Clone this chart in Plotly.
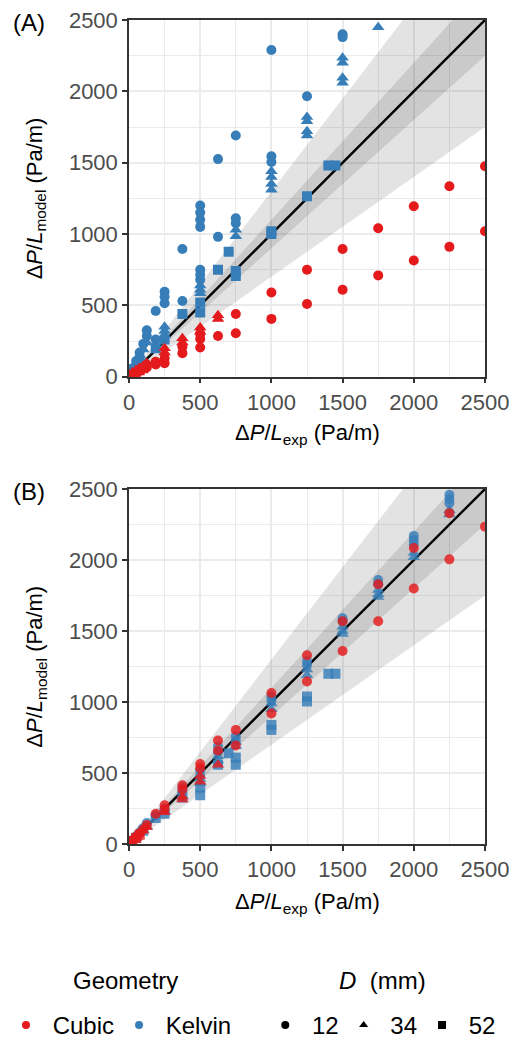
import plotly.graph_objects as go

# ---------------- data ----------------
axis_max = 2500
band_outer = 0.3
band_inner = 0.1
ticks = [0, 500, 1000, 1500, 2000, 2500]

# Panel A
a_cubic12_x = [25, 50, 62.5, 75, 100, 125, 125, 187.5, 187.5, 250, 250, 375, 375, 500, 500, 500, 625, 750, 750,
               1000, 1000, 1250, 1250, 1500, 1500, 1750, 1750, 2000, 2000, 2250, 2250, 2500, 2500]
a_cubic12_y = [15, 30, 35, 45, 60, 85, 65, 105, 85, 130, 95, 210, 165, 300, 265, 205, 285, 440, 305,
               590, 405, 750, 510, 895, 610, 1040, 710, 1195, 815, 1335, 910, 1475, 1020]
a_cubic34_x = [25, 50, 75, 100, 125, 250, 250, 375, 375, 500, 500, 625, 625]
a_cubic34_y = [20, 40, 55, 75, 95, 200, 170, 270, 240, 345, 315, 430, 405]
a_cubic52_x = [25, 50, 75, 100]
a_cubic52_y = [15, 30, 45, 60]
a_kelvin12_x = [25, 50, 75, 75, 100, 125, 125, 187.5, 187.5, 250, 250, 250, 375, 375, 500, 500, 500, 500, 500, 500,
                500, 625, 625, 750, 750, 750, 1000, 1000, 1000, 1250, 1500, 1500]
a_kelvin12_y = [60, 110, 170, 140, 230, 325, 285, 460, 260, 595, 560, 515, 895, 530, 1200, 1150, 1100, 1050, 750, 715,
                680, 1525, 980, 1690, 1110, 1075, 2290, 1545, 1505, 1965, 2400, 2380]
a_kelvin34_x = [50, 75, 100, 125, 250, 250, 250, 500, 500, 500, 750, 750, 1000, 1000, 1000, 1000,
                1250, 1250, 1250, 1250, 1500, 1500, 1500, 1500, 1750]
a_kelvin34_y = [90, 150, 190, 240, 350, 320, 290, 640, 610, 585, 1030, 985, 1440, 1400, 1350, 1310,
                1820, 1790, 1720, 1690, 2235, 2200, 2095, 2060, 2450]
a_kelvin52_x = [50, 100, 187.5, 250, 375, 500, 500, 625, 700, 750, 750, 1000, 1000, 1250, 1400, 1450]
a_kelvin52_y = [40, 90, 200, 260, 440, 520, 450, 750, 875, 740, 705, 1020, 1000, 1265, 1480, 1480]

# Panel B
b_cubic12_x = [25, 50, 75, 100, 125, 187.5, 250, 250, 375, 375, 500, 500, 625, 625, 750, 750, 1000, 1000,
               1250, 1250, 1500, 1500, 1750, 1750, 2000, 2000, 2250, 2250, 2500]
b_cubic12_y = [28, 52, 78, 105, 135, 215, 275, 245, 415, 385, 565, 535, 730, 660, 805, 695, 1065, 920,
               1330, 1145, 1570, 1360, 1830, 1570, 2085, 1800, 2330, 2005, 2235]
b_cubic34_x = [50, 100, 125, 250, 375, 375, 500, 500, 625]
b_cubic34_y = [45, 95, 120, 225, 335, 315, 480, 440, 560]
b_cubic52_x = [25, 50, 75]
b_cubic52_y = [22, 45, 68]
b_kelvin12_x = [25, 50, 75, 100, 125, 187.5, 250, 375, 375, 500, 500, 625, 625, 750, 750, 1000, 1000,
                1250, 1250, 1500, 1500, 1750, 1750, 2000, 2000, 2000, 2250, 2250, 2250]
b_kelvin12_y = [30, 58, 85, 115, 150, 205, 250, 400, 370, 520, 480, 690, 650, 760, 730, 1040, 1010,
                1290, 1260, 1590, 1570, 1860, 1830, 2170, 2140, 2110, 2460, 2430, 2400]
b_kelvin34_x = [50, 100, 125, 250, 375, 500, 500, 625, 625, 750, 750, 1000, 1000, 1250, 1250,
                1500, 1500, 1500, 1750, 1750, 1750, 2000, 2000, 2250, 2250]
b_kelvin34_y = [50, 100, 125, 230, 340, 460, 430, 620, 590, 720, 690, 990, 950, 1230, 1190,
                1530, 1500, 1480, 1790, 1760, 1740, 2050, 2020, 2350, 2320]
b_kelvin52_x = [50, 100, 187.5, 250, 375, 500, 500, 625, 700, 750, 750, 1000, 1000, 1250, 1250, 1400, 1450]
b_kelvin52_y = [45, 95, 185, 215, 330, 400, 345, 560, 640, 610, 560, 840, 805, 1040, 1005, 1200, 1200]

geometries = ["Cubic", "Kelvin"]
diameters = ["12", "34", "52"]

# ---------------- styles ----------------
RED = "#E41A1C"
BLUE = "#377EB8"
colors = {"Cubic": RED, "Kelvin": BLUE}
symbols = {"12": "circle", "34": "triangle-up", "52": "square"}
sizes = {"12": 10, "34": 11, "52": 10}
FONT = "Liberation Sans, Arial, Helvetica, sans-serif"
NB = "\u00a0"

panels = {
    "A": {
        ("Kelvin", "12"): (a_kelvin12_x, a_kelvin12_y),
        ("Kelvin", "34"): (a_kelvin34_x, a_kelvin34_y),
        ("Kelvin", "52"): (a_kelvin52_x, a_kelvin52_y),
        ("Cubic", "12"): (a_cubic12_x, a_cubic12_y),
        ("Cubic", "34"): (a_cubic34_x, a_cubic34_y),
        ("Cubic", "52"): (a_cubic52_x, a_cubic52_y),
    },
    "B": {
        ("Kelvin", "12"): (b_kelvin12_x, b_kelvin12_y),
        ("Kelvin", "34"): (b_kelvin34_x, b_kelvin34_y),
        ("Kelvin", "52"): (b_kelvin52_x, b_kelvin52_y),
        ("Cubic", "12"): (b_cubic12_x, b_cubic12_y),
        ("Cubic", "34"): (b_cubic34_x, b_cubic34_y),
        ("Cubic", "52"): (b_cubic52_x, b_cubic52_y),
    },
}
axes_ids = {"A": ("x", "y"), "B": ("x2", "y2")}
opac = {"A": 1.0, "B": 0.82}

fig = go.Figure()

for pname, data in panels.items():
    xa, ya = axes_ids[pname]
    for frac in (band_outer, band_inner):
        fig.add_trace(go.Scatter(
            x=[0, axis_max, axis_max, 0],
            y=[0, axis_max * (1 + frac), axis_max * (1 - frac), 0],
            fill="toself", fillcolor="rgba(0,0,0,0.11)", line=dict(width=0),
            mode="lines", hoverinfo="skip", showlegend=False, xaxis=xa, yaxis=ya))
    fig.add_trace(go.Scatter(x=[0, axis_max], y=[0, axis_max], mode="lines",
                             line=dict(color="black", width=2.4), showlegend=False,
                             xaxis=xa, yaxis=ya))
    for (geo, d), (xs, ys) in data.items():
        fig.add_trace(go.Scatter(
            x=xs, y=ys, mode="markers",
            marker=dict(color=colors[geo], symbol=symbols[d], size=sizes[d],
                        opacity=opac[pname], line=dict(width=0)),
            showlegend=False, xaxis=xa, yaxis=ya, cliponaxis=True))

for geo in geometries:
    fig.add_trace(go.Scatter(x=[None], y=[None], mode="markers", name=NB + geo,
                             marker=dict(color=colors[geo], symbol="circle", size=8),
                             legend="legend", showlegend=True))
for d in diameters:
    fig.add_trace(go.Scatter(x=[None], y=[None], mode="markers", name=NB + d,
                             marker=dict(color="black", symbol=symbols[d], size=8),
                             legend="legend2", showlegend=True))

W, H = 514, 1042
x_dom = [129 / W, 485 / W]
yA = [1 - 376.7 / H, 1 - 20 / H]
yB = [1 - 844.3 / H, 1 - 489 / H]

def xaxis_cfg(anchor):
    return dict(domain=x_dom, anchor=anchor, range=[0, axis_max], tickvals=ticks,
                automargin=False,
                ticks="outside", ticklen=5, tickwidth=1.5, tickcolor="#333333",
                showline=True, mirror=True, linecolor="#333333", linewidth=1.5,
                showgrid=True, gridcolor="#EBEBEB", gridwidth=1.6, zeroline=False,
                minor=dict(dtick=250, tick0=0, showgrid=True, gridcolor="#EBEBEB", gridwidth=0.9),
                tickfont=dict(size=22, color="#4D4D4D", family=FONT))

def yaxis_cfg(anchor, dom):
    c = xaxis_cfg(anchor)
    c["domain"] = dom
    return c

leg_y = -6 / H
fig.update_layout(
    width=W, height=H, margin=dict(l=0, r=0, t=0, b=0, autoexpand=False),
    plot_bgcolor="white", paper_bgcolor="white",
    font=dict(family=FONT, color="black"),
    xaxis=xaxis_cfg("y"), yaxis=yaxis_cfg("x", yA),
    xaxis2=xaxis_cfg("y2"), yaxis2=yaxis_cfg("x2", yB),
    legend=dict(orientation="h", x=6 / W, xanchor="left", y=leg_y, yanchor="bottom",
                font=dict(size=24, color="black", family=FONT), bgcolor="rgba(0,0,0,0)"),
    legend2=dict(orientation="h", x=0.52 - 2 / W, xanchor="left", y=leg_y, yanchor="bottom",
                 font=dict(size=24, color="black", family=FONT), bgcolor="rgba(0,0,0,0)"),
)

ytitle = "Δ<i>P</i>/<i>L</i><sub>model</sub> (Pa/m)"
xtitle = "Δ<i>P</i>/<i>L</i><sub>exp</sub> (Pa/m)"

def ann_at(text, xc, yc, size, angle=0):
    return dict(text=text, x=xc / W, y=1 - yc / H, xref="paper", yref="paper",
                xanchor="center", yanchor="middle", textangle=angle,
                showarrow=False, font=dict(size=size, color="black", family=FONT))

ann = []
ann.append(ann_at("(A)", 29, 22, 24))
ann.append(ann_at("(B)", 29, 491, 24))
ann.append(ann_at(ytitle, 36, (20 + 376.7) / 2, 22, -90))
ann.append(ann_at(ytitle, 36, (489 + 844.3) / 2, 22, -90))
ann.append(ann_at(xtitle, 307, 434, 22))
ann.append(ann_at(xtitle, 307, 903, 22))
ann.append(ann_at("Geometry", 125, 980, 24))
ann.append(ann_at("<i>D</i>" + NB + NB + "(mm)", 382, 980, 24))
fig.update_layout(annotations=ann)

fig.write_html("out.html", config={"displayModeBar": False},
               post_script="document.body.style.margin='0';document.body.style.overflow='hidden';")
